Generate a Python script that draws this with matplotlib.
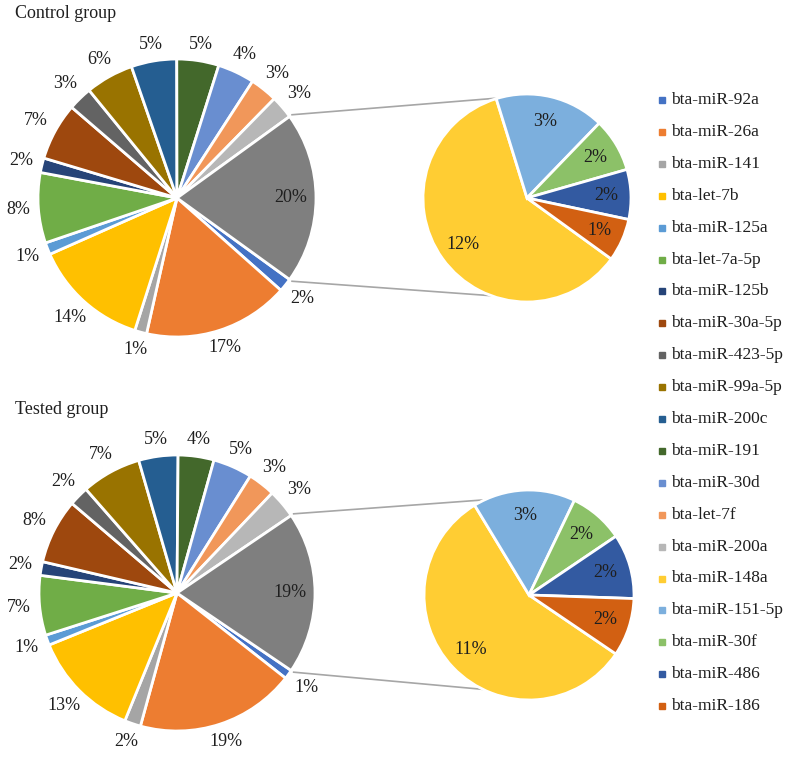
import matplotlib.pyplot as plt
import numpy as np
from matplotlib.patches import Rectangle

plt.rcParams['font.family'] = ['Liberation Serif', 'DejaVu Serif']

names = ['bta-miR-92a', 'bta-miR-26a', 'bta-miR-141', 'bta-let-7b', 'bta-miR-125a',
         'bta-let-7a-5p', 'bta-miR-125b', 'bta-miR-30a-5p', 'bta-miR-423-5p', 'bta-miR-99a-5p',
         'bta-miR-200c', 'bta-miR-191', 'bta-miR-30d', 'bta-let-7f', 'bta-miR-200a',
         'bta-miR-148a', 'bta-miR-151-5p', 'bta-miR-30f', 'bta-miR-486', 'bta-miR-186']
colors = ['#4472C4', '#ED7D31', '#A5A5A5', '#FFC000', '#5B9BD5',
          '#70AD47', '#264478', '#9E480E', '#636363', '#997300',
          '#255E91', '#43682B', '#698ED0', '#F1975A', '#B7B7B7',
          '#FFCD33', '#7CAFDD', '#8CC168', '#335AA1', '#D26012']
other_color = '#7F7F7F'

# percentages (first 15 in the big pie, last 5 in the small one)
control_main = [1.6, 17.0, 1.4, 13.5, 1.4, 8.2, 1.7, 6.7, 2.8, 5.6, 5.3, 4.9, 4.3, 3.2, 2.7]
control_sub = [12.05, 3.4, 1.67, 1.55, 1.33]
tested_main = [1.1, 18.7, 1.9, 12.7, 1.2, 7.0, 1.6, 7.6, 2.3, 7.0, 4.6, 4.2, 4.6, 3.2, 3.4]
tested_sub = [10.8, 3.0, 1.6, 1.9, 1.7]

H = 759
fig = plt.figure(figsize=(7.87, 7.59), dpi=100)
ax = fig.add_axes([0, 0, 1, 1])
txt = '#1f1f1f'


def draw_group(main_vals, sub_vals, c1, r1, c2, r2, link_top, link_bot):
    other = sum(sub_vals)
    vals = main_vals + [other]
    total = sum(vals)
    start = -180.0 * other / total
    wp = dict(edgecolor='white', linewidth=2)
    wedges, _ = ax.pie(vals, colors=colors[:15] + [other_color], center=c1, radius=r1,
                       startangle=start, counterclock=False, wedgeprops=wp)
    for i, (w, v) in enumerate(zip(wedges, vals)):
        a = np.deg2rad((w.theta1 + w.theta2) / 2)
        if i == len(vals) - 1:
            d = 0.82 * r1
        else:
            d = r1 + 8 + 12 * abs(np.cos(a)) + 7 * abs(np.sin(a))
        ax.text(c1[0] + d * np.cos(a), c1[1] + d * np.sin(a), f'{int(round(v))}%',
                ha='center', va='center', fontsize=13, color=txt)

    wedges2, _ = ax.pie(sub_vals, colors=colors[15:], center=c2, radius=r2,
                        startangle=start, counterclock=False, wedgeprops=wp)
    for w, v in zip(wedges2, sub_vals):
        a = np.deg2rad((w.theta1 + w.theta2) / 2)
        d = 0.76 * r2
        ax.text(c2[0] + d * np.cos(a), c2[1] + d * np.sin(a), f'{int(round(v))}%',
                ha='center', va='center', fontsize=13, color=txt)

    half = np.deg2rad(-start)
    for a1, a2 in [(half, np.deg2rad(link_top)), (-half, np.deg2rad(link_bot))]:
        x0 = c1[0] + (r1 + 3) * np.cos(a1)
        y0 = c1[1] + (r1 + 3) * np.sin(a1)
        x1 = c2[0] + r2 * np.cos(a2)
        y1 = c2[1] + r2 * np.sin(a2)
        ax.plot([x0, x1], [y0, y1], color='#A6A6A6', lw=1.2, zorder=0)


draw_group(control_main, control_sub, (177, H - 198), 139, (527, H - 198), 104, 106, -110)
draw_group(tested_main, tested_sub, (177, H - 593), 138, (529, H - 595), 105, 115, -116)

ax.text(15, H - 14, 'Control group', ha='left', va='center', fontsize=13, color=txt)
ax.text(15, H - 410, 'Tested group', ha='left', va='center', fontsize=13, color=txt)

# legend
for i, (name, col) in enumerate(zip(names, colors)):
    y = H - (100 + i * 31.9)
    ax.add_patch(Rectangle((659, y - 3), 6, 6, color=col))
    ax.text(671, y, name, ha='left', va='center', fontsize=12.5, color=txt)

ax.set_xlim(0, 787)
ax.set_ylim(0, H)
ax.set_aspect('equal')
ax.axis('off')
fig.savefig('out.png', dpi=100)
